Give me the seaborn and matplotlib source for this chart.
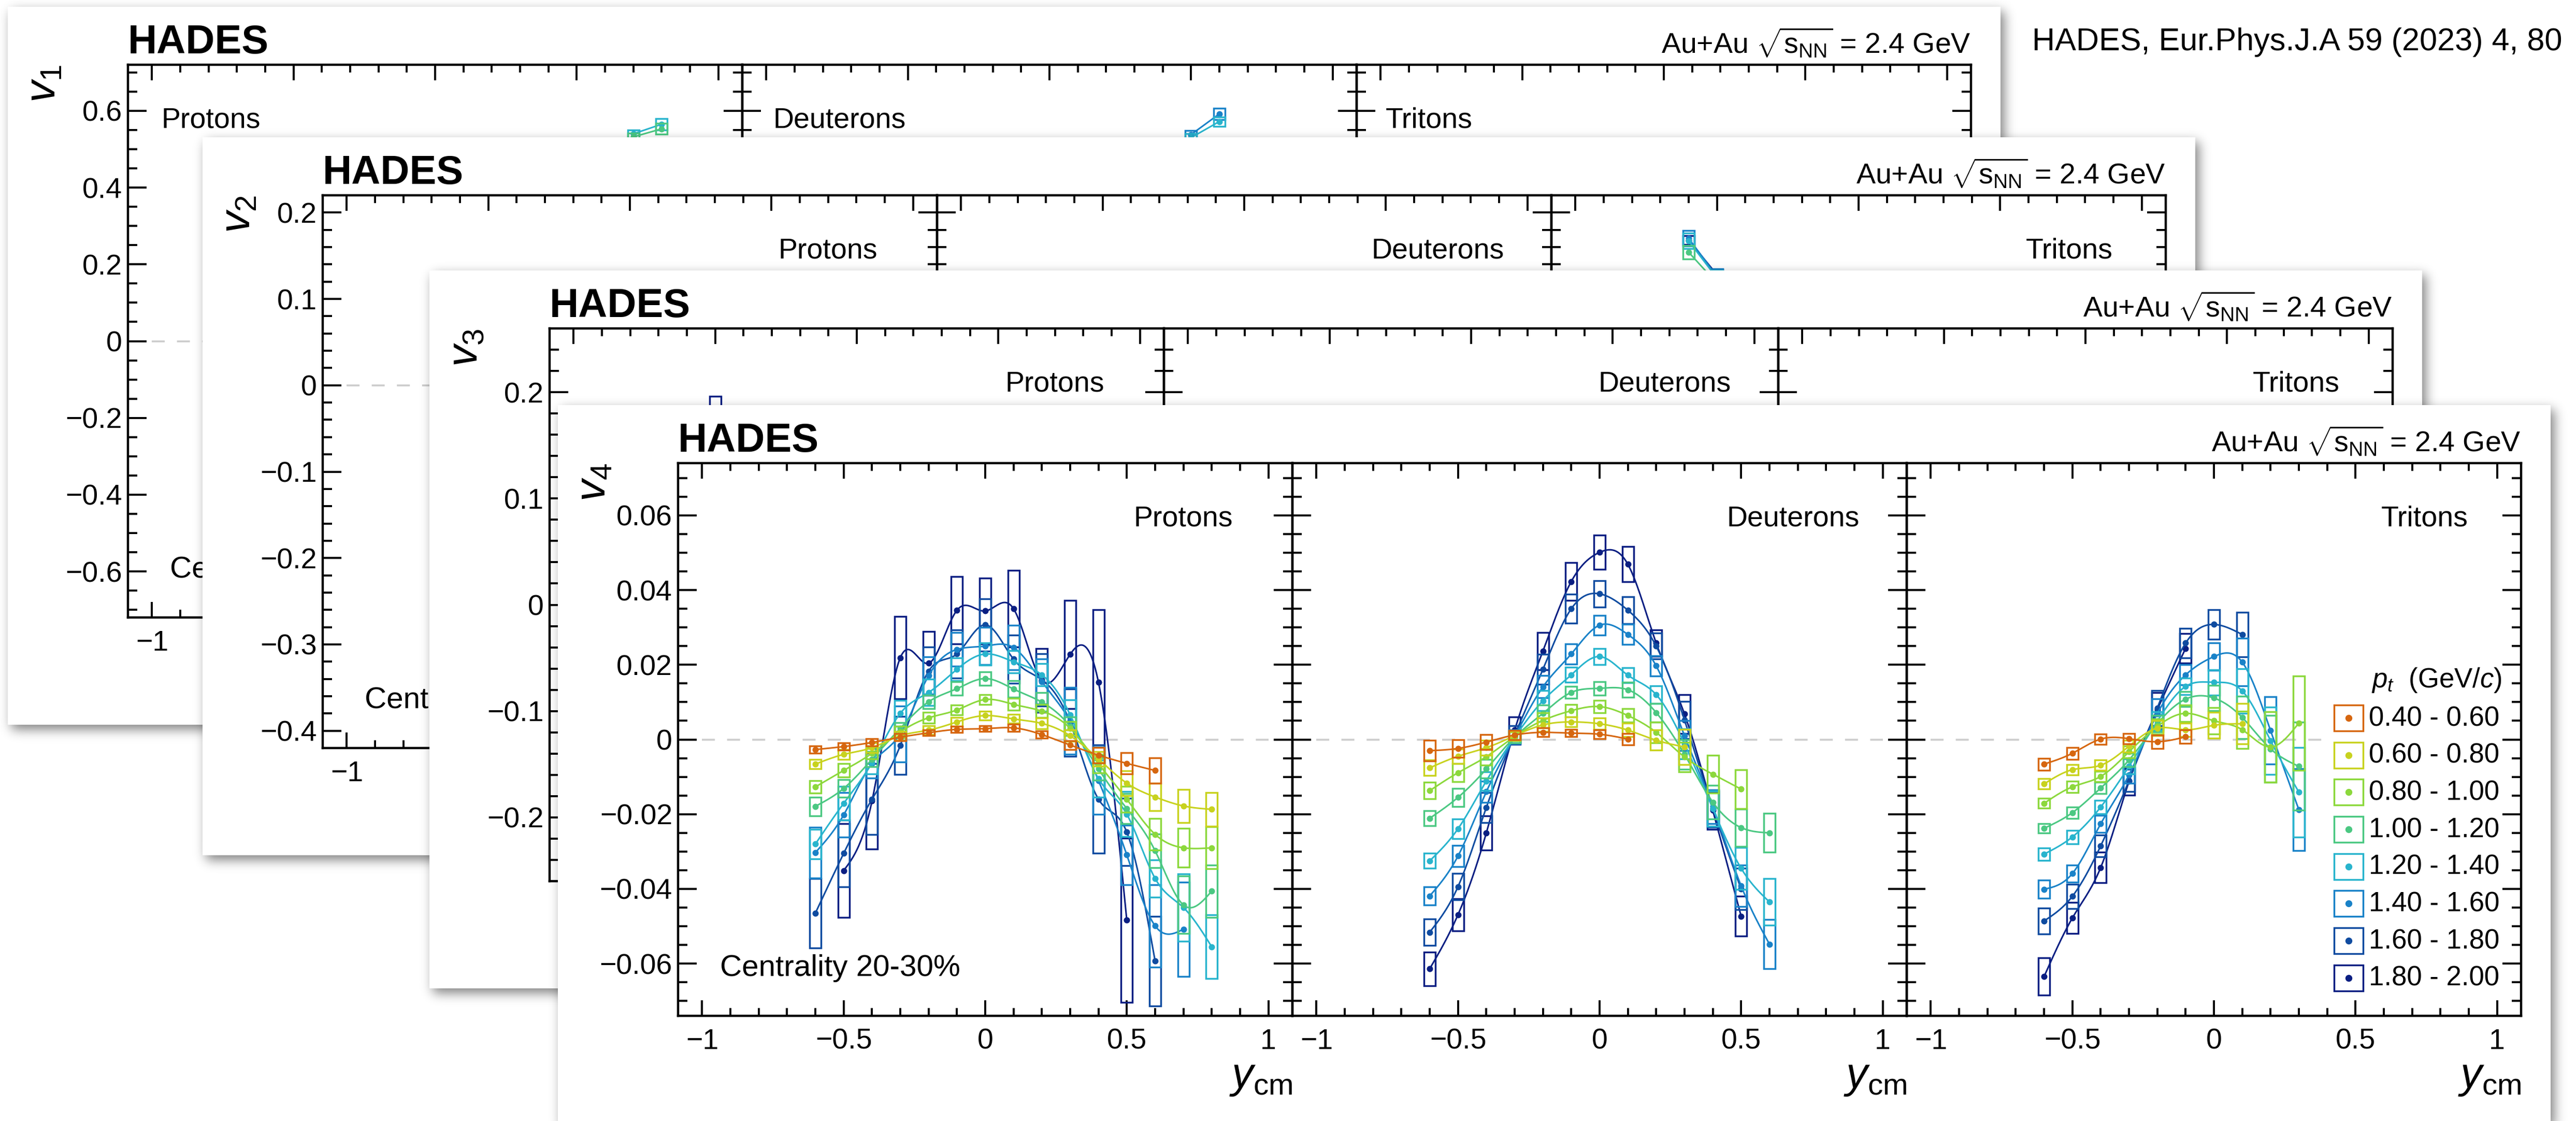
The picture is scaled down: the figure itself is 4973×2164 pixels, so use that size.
import math
import numpy as np
import matplotlib
matplotlib.use("Agg")
import matplotlib.pyplot as plt
from matplotlib.patches import Rectangle
from matplotlib.ticker import MultipleLocator, FuncFormatter
from matplotlib.transforms import Bbox
import seaborn as sns

W, H, DPI = 4973, 2164, 100

sns.set_theme(style="white")
plt.rcParams.update({
    "font.family": ["Liberation Sans", "DejaVu Sans"],
    "mathtext.fontset": "custom",
    "mathtext.rm": "Liberation Sans",
    "mathtext.it": "Liberation Sans:italic",
    "mathtext.bf": "Liberation Sans:bold",
    "axes.unicode_minus": True,
    "lines.scale_dashes": False,
    "text.color": "black",
    "figure.facecolor": "white",
})

# ---------------------------------------------------------------- data
PARTICLES = ["Protons", "Deuterons", "Tritons"]
PT_LABELS = ["0.40 - 0.60", "0.60 - 0.80", "0.80 - 1.00", "1.00 - 1.20",
             "1.20 - 1.40", "1.40 - 1.60", "1.60 - 1.80", "1.80 - 2.00"]
PT_COLORS = ["#d6660f", "#c8d21e", "#8cd83c", "#4bc882",
             "#28b4cd", "#1982c8", "#0f4ba0", "#0a1e82"]

# rapidity bins (y_cm) shared by all graphs
Y_GRID = [-0.6, -0.5, -0.4, -0.3, -0.2, -0.1, 0.0, 0.1, 0.2, 0.3, 0.4, 0.5, 0.6, 0.7, 0.8]

# v4 of protons, one row per pt bin; START = index of first rapidity bin
V4_PROTON_START = [0, 0, 0, 0, 0, 0, 0, 1]
V4_PROTON_V = [
    [-0.0027, -0.0019, -0.0008, 0.0006, 0.0018, 0.0027, 0.0029, 0.0031, 0.0013, -0.0015, -0.0042, -0.0064, -0.0083],
    [-0.0066, -0.0040, -0.0022, 0.0010, 0.0025, 0.0047, 0.0064, 0.0055, 0.0043, 0.0010, -0.0052, -0.0117, -0.0154, -0.0178, -0.0187],
    [-0.0127, -0.0083, -0.0037, 0.0020, 0.0058, 0.0079, 0.0107, 0.0094, 0.0076, 0.0030, -0.0065, -0.0160, -0.0254, -0.0290, -0.0290],
    [-0.0179, -0.0131, -0.0053, 0.0030, 0.0101, 0.0136, 0.0163, 0.0135, 0.0100, 0.0035, -0.0079, -0.0185, -0.0298, -0.0443, -0.0406],
    [-0.0280, -0.0171, -0.0062, 0.0070, 0.0126, 0.0188, 0.0229, 0.0208, 0.0173, 0.0066, -0.0105, -0.0200, -0.0372, -0.0450, -0.0555],
    [-0.0303, -0.0202, -0.0064, 0.0015, 0.0171, 0.0241, 0.0250, 0.0246, 0.0155, 0.0050, -0.0110, -0.0309, -0.0499, -0.0508],
    [-0.0465, -0.0305, -0.0160, -0.0016, 0.0183, 0.0229, 0.0307, 0.0215, 0.0160, 0.0045, -0.0160, -0.0248, -0.0593],
    [-0.0351, -0.0165, 0.0219, 0.0204, 0.0346, 0.0344, 0.0350, 0.0158, 0.0228, 0.0153, -0.0484],
]
V4_PROTON_SYS = [
    [0.0010, 0.0010, 0.0010, 0.0010, 0.0008, 0.0008, 0.0008, 0.0010, 0.0010, 0.0012, 0.0021, 0.0028, 0.0034],
    [0.0012, 0.0013, 0.0013, 0.0012, 0.0012, 0.0012, 0.0012, 0.0012, 0.0014, 0.0015, 0.0020, 0.0033, 0.0037, 0.0044, 0.0045],
    [0.0017, 0.0018, 0.0015, 0.0015, 0.0015, 0.0013, 0.0013, 0.0016, 0.0017, 0.0018, 0.0025, 0.0035, 0.0042, 0.0052, 0.0056],
    [0.0025, 0.0024, 0.0020, 0.0015, 0.0018, 0.0018, 0.0018, 0.0022, 0.0025, 0.0025, 0.0030, 0.0040, 0.0045, 0.0077, 0.0070],
    [0.0040, 0.0045, 0.0030, 0.0035, 0.0035, 0.0030, 0.0030, 0.0030, 0.0030, 0.0040, 0.0050, 0.0060, 0.0050, 0.0090, 0.0085],
    [0.0068, 0.0060, 0.0040, 0.0075, 0.0050, 0.0045, 0.0050, 0.0060, 0.0060, 0.0090, 0.0090, 0.0080, 0.0110, 0.0126],
    [0.0093, 0.0090, 0.0095, 0.0078, 0.0065, 0.0065, 0.0070, 0.0065, 0.0070, 0.0090, 0.0145, 0.0090, 0.0120],
    [0.0125, 0.0128, 0.0110, 0.0085, 0.0090, 0.0088, 0.0103, 0.0085, 0.0145, 0.0195, 0.0220],
]

# v4 of deuterons
V4_DEUTERON_START = [0, 0, 0, 0, 0, 0, 0, 0]
V4_DEUTERON_V = [
    [-0.0030, -0.0024, -0.0007, 0.0012, 0.0019, 0.0017, 0.0014, 0.0001],
    [-0.0076, -0.0045, -0.0022, 0.0010, 0.0039, 0.0047, 0.0042, 0.0025, -0.0002, -0.0020],
    [-0.0137, -0.0089, -0.0046, 0.0008, 0.0051, 0.0077, 0.0088, 0.0064, 0.0019, -0.0047, -0.0093, -0.0133],
    [-0.0211, -0.0155, -0.0079, 0.0006, 0.0070, 0.0126, 0.0137, 0.0133, 0.0072, -0.0040, -0.0168, -0.0236, -0.0250],
    [-0.0325, -0.0239, -0.0111, 0.0006, 0.0104, 0.0173, 0.0222, 0.0172, 0.0120, -0.0012, -0.0185, -0.0345, -0.0435],
    [-0.0419, -0.0312, -0.0140, 0.0008, 0.0141, 0.0229, 0.0306, 0.0281, 0.0197, 0.0010, -0.0180, -0.0392, -0.0548],
    [-0.0516, -0.0394, -0.0182, 0.0012, 0.0188, 0.0350, 0.0390, 0.0346, 0.0250, 0.0052, -0.0185, -0.0400],
    [-0.0614, -0.0469, -0.0250, 0.0025, 0.0237, 0.0423, 0.0501, 0.0469, 0.0258, 0.0068, -0.0190, -0.0473],
]
V4_DEUTERON_SYS = [
    [0.0028, 0.0024, 0.0020, 0.0012, 0.0012, 0.0010, 0.0012, 0.0015],
    [0.0021, 0.0020, 0.0020, 0.0012, 0.0018, 0.0013, 0.0015, 0.0018, 0.0027, 0.0047],
    [0.0022, 0.0024, 0.0022, 0.0012, 0.0020, 0.0016, 0.0017, 0.0018, 0.0028, 0.0040, 0.0051, 0.0052],
    [0.0020, 0.0024, 0.0025, 0.0015, 0.0022, 0.0016, 0.0018, 0.0020, 0.0025, 0.0040, 0.0045, 0.0050, 0.0052],
    [0.0020, 0.0026, 0.0025, 0.0015, 0.0027, 0.0020, 0.0021, 0.0020, 0.0023, 0.0040, 0.0047, 0.0056, 0.0062],
    [0.0024, 0.0028, 0.0028, 0.0018, 0.0030, 0.0027, 0.0026, 0.0027, 0.0027, 0.0040, 0.0045, 0.0055, 0.0066],
    [0.0035, 0.0035, 0.0040, 0.0025, 0.0040, 0.0039, 0.0035, 0.0036, 0.0035, 0.0050, 0.0050, 0.0055],
    [0.0045, 0.0043, 0.0046, 0.0035, 0.0050, 0.0051, 0.0046, 0.0047, 0.0035, 0.0052, 0.0050, 0.0053],
]

# v4 of tritons
V4_TRITON_START = [0, 0, 0, 0, 0, 0, 0, 0]
V4_TRITON_V = [
    [-0.0066, -0.0037, 0.0001, 0.0002, -0.0006, 0.0007],
    [-0.0119, -0.0081, -0.0069, -0.0018, 0.0030, 0.0026, 0.0038, 0.0042],
    [-0.0171, -0.0127, -0.0099, -0.0033, 0.0035, 0.0070, 0.0050, 0.0026, -0.0020, 0.0044],
    [-0.0238, -0.0196, -0.0130, -0.0055, 0.0042, 0.0108, 0.0111, 0.0059, -0.0025, -0.0072],
    [-0.0307, -0.0261, -0.0181, -0.0072, 0.0049, 0.0142, 0.0153, 0.0130, -0.0003, -0.0141],
    [-0.0401, -0.0359, -0.0226, -0.0095, 0.0069, 0.0173, 0.0222, 0.0207, 0.0024, -0.0188],
    [-0.0486, -0.0420, -0.0285, -0.0110, 0.0084, 0.0258, 0.0308, 0.0281],
    [-0.0635, -0.0478, -0.0343, -0.0112, 0.0080, 0.0244],
]
V4_TRITON_SYS = [
    [0.0016, 0.0016, 0.0014, 0.0014, 0.0018, 0.0018],
    [0.0014, 0.0014, 0.0014, 0.0016, 0.0020, 0.0018, 0.0035, 0.0054],
    [0.0013, 0.0015, 0.0014, 0.0016, 0.0020, 0.0022, 0.0035, 0.0050, 0.0094, 0.0126],
    [0.0013, 0.0015, 0.0015, 0.0018, 0.0022, 0.0020, 0.0034, 0.0057, 0.0090, 0.0118],
    [0.0017, 0.0018, 0.0018, 0.0020, 0.0025, 0.0022, 0.0034, 0.0060, 0.0090, 0.0120],
    [0.0024, 0.0023, 0.0023, 0.0022, 0.0040, 0.0027, 0.0037, 0.0064, 0.0090, 0.0110],
    [0.0035, 0.0033, 0.0029, 0.0030, 0.0047, 0.0040, 0.0040, 0.0060],
    [0.0050, 0.0042, 0.0041, 0.0037, 0.0045, 0.0040],
]

# pieces of the v1, v2, v3 graphs: {pt bin: (first rapidity index, values, systematics)}
V1_PROTON = {3: (13, [0.532, 0.553], [0.010, 0.014]),
             4: (13, [0.540, 0.565], [0.010, 0.015])}
V1_DEUTERON = {4: (11, [0.530, 0.572], [0.010, 0.012]),
               5: (11, [0.538, 0.592], [0.010, 0.015])}
V2_TRITON = {3: (0, [0.154, 0.118], [0.008, 0.008]),
             4: (0, [0.167, 0.124], [0.009, 0.009]),
             5: (0, [0.170, 0.126], [0.009, 0.009]),
             7: (0, [0.168, 0.128], [0.005, 0.006])}
V3_PROTON = {7: (1, [0.170], [0.026])}


def rows_to_dict(starts, values, syst):
    return {i: (starts[i], values[i], syst[i]) for i in range(len(values))}


CARDS = [
    dict(n=1, ylim=(-0.72, 0.72), major=0.2, minor=0.05, origin=(15, 13),
         names_left=True, panels=[V1_PROTON, V1_DEUTERON, {}]),
    dict(n=2, ylim=(-0.42, 0.22), major=0.1, minor=0.02, origin=(391, 265),
         names_left=False, panels=[{}, {}, V2_TRITON]),
    dict(n=3, ylim=(-0.26, 0.26), major=0.1, minor=0.02, origin=(829, 522),
         names_left=False, panels=[V3_PROTON, {}, {}]),
    dict(n=4, ylim=(-0.074, 0.074), major=0.02, minor=0.005, origin=(1077, 782),
         names_left=False,
         panels=[rows_to_dict(V4_PROTON_START, V4_PROTON_V, V4_PROTON_SYS),
                 rows_to_dict(V4_DEUTERON_START, V4_DEUTERON_V, V4_DEUTERON_SYS),
                 rows_to_dict(V4_TRITON_START, V4_TRITON_V, V4_TRITON_SYS)]),
]

# ---------------------------------------------------------------- layout (px)
CARD_W, CARD_H = 3847, 1386
AX_DX, AX_DY = 232, 112
PANEL_W, PANEL_H = 1186, 1067
NAME_X_RIGHT = [0.903, 0.923, 0.914]
NAME_X_LEFT = [0.054, 0.050, 0.047]
CENT_X = 0.068


def spline_path(x, y, n=30):
    """Natural cubic spline through the graph points (smooth drawing option)."""
    x = np.asarray(x, float)
    y = np.asarray(y, float)
    m = len(x)
    if m < 3:
        return x, y
    h = np.diff(x)
    A = np.zeros((m, m))
    r = np.zeros(m)
    A[0, 0] = A[-1, -1] = 1.0
    for i in range(1, m - 1):
        A[i, i - 1] = h[i - 1]
        A[i, i] = 2 * (h[i - 1] + h[i])
        A[i, i + 1] = h[i]
        r[i] = 3 * ((y[i + 1] - y[i]) / h[i] - (y[i] - y[i - 1]) / h[i - 1])
    c = np.linalg.solve(A, r)
    b = (y[1:] - y[:-1]) / h - h * (2 * c[:-1] + c[1:]) / 3
    d = (c[1:] - c[:-1]) / (3 * h)
    xs, ys = [], []
    for i in range(m - 1):
        t = np.linspace(0, h[i], n, endpoint=(i == m - 2))
        xs.append(x[i] + t)
        ys.append(y[i] + b[i] * t + c[i] * t ** 2 + d[i] * t ** 3)
    return np.concatenate(xs), np.concatenate(ys)


verf = np.vectorize(math.erf)


def blur_profile(n, a, b, sigma):
    t = np.arange(n) + 0.5
    s = sigma * math.sqrt(2)
    return 0.5 * (verf((t - a) / s) - verf((t - b) / s))


def add_shadow(fig, left, top, w, h, z, dx=7, dy=9, sigma=11, amax=0.5, pad=60):
    x0, x1 = max(left - pad, 0), min(left + w + pad, W)
    y0, y1 = max(top - pad, 0), min(top + h + pad, H)
    px = blur_profile(x1 - x0, left + dx - x0, left + w + dx - x0, sigma)
    py = blur_profile(y1 - y0, top + dy - y0, top + h + dy - y0, sigma)
    img = np.zeros((y1 - y0, x1 - x0, 4), dtype=np.uint8)
    img[..., 3] = np.clip(amax * np.outer(py, px) * 255, 0, 255).astype(np.uint8)
    fig.figimage(img, xo=x0, yo=H - y1, origin="upper", zorder=z)


def tick_fmt(v, pos):
    v = round(v, 6)
    if abs(v) < 1e-9:
        return "0"
    return f"{v:g}".replace("-", "\u2212")


def left_edge_fmt(v, pos):
    # on the stacked cards only the leftmost x label sticks out
    return tick_fmt(v, pos) if v < -0.99 else ""


def style_panel(ax, card, first):
    front = card["n"] == 4
    ax.set_facecolor("none")
    ax.set_xlim(-1.085, 1.085)
    ax.set_ylim(*card["ylim"])
    ax.xaxis.set_major_locator(MultipleLocator(0.5))
    ax.xaxis.set_minor_locator(MultipleLocator(0.1))
    ax.yaxis.set_major_locator(MultipleLocator(card["major"]))
    ax.yaxis.set_minor_locator(MultipleLocator(card["minor"]))
    ax.xaxis.set_major_formatter(FuncFormatter(tick_fmt if front else left_edge_fmt))
    ax.yaxis.set_major_formatter(FuncFormatter(tick_fmt))
    show_x = front or (first and card["n"] < 3)
    common = dict(direction="in", color="black", width=2.8, labelcolor="black")
    ax.tick_params(axis="x", which="major", length=21.6, top=True, bottom=True,
                   labelbottom=show_x, labelsize=40, pad=17, **common)
    ax.tick_params(axis="x", which="minor", length=10.5, top=True, bottom=True, **common)
    ax.tick_params(axis="y", which="major", length=26, left=True, right=True,
                   labelleft=first, labelsize=40, pad=8, **common)
    ax.tick_params(axis="y", which="minor", length=13, left=True, right=True, **common)
    for sp in ax.spines.values():
        sp.set_color("black")
        sp.set_linewidth(3.2)
    ax.set_xlabel("")
    ax.set_ylabel("")


def draw_series(ax, ys, vs, ss, color, z):
    ys, vs, ss = np.asarray(ys), np.asarray(vs), np.asarray(ss)
    ax.bar(ys, 2 * ss, bottom=vs - ss, width=0.04, fill=False,
           edgecolor=color, linewidth=2.5, zorder=z)
    cx, cy = spline_path(ys, vs)
    if len(cx) > 1:
        ax.plot(cx, cy, color=color, lw=2.2, zorder=z + 0.1)
    sns.scatterplot(x=ys, y=vs, color=color, s=75, linewidth=0, ax=ax,
                    zorder=z + 0.2, legend=False)


def draw_legend(ax):
    ax.add_patch(Rectangle((0.682, 0.04), 0.286, 0.60, transform=ax.transAxes,
                           facecolor="white", edgecolor="none", zorder=1.5))
    ax.text(0.969, 0.594, r"$p_{t}$  (GeV/$c$)", transform=ax.transAxes,
            ha="right", va="baseline", fontsize=38, zorder=3)
    for i, (lab, col) in enumerate(zip(PT_LABELS, PT_COLORS)):
        yc = 0.539 - i * 0.0672
        ax.add_patch(Rectangle((0.7195 - 0.0236, yc - 0.0234), 0.0472, 0.0468,
                               transform=ax.transAxes, fill=False,
                               edgecolor=col, lw=2.5, zorder=3))
        ax.plot([0.7195], [yc], marker="o", ms=8.6, color=col, ls="none",
                transform=ax.transAxes, zorder=3.1)
        ax.text(0.7522, yc - 0.0142, lab, transform=ax.transAxes,
                ha="left", va="baseline", fontsize=38, zorder=3)


fig = plt.figure(figsize=(W / DPI, H / DPI), dpi=DPI)

for k, card in enumerate(CARDS):
    base = 10 * card["n"]
    left, top = card["origin"]
    front = card["n"] == 4
    add_shadow(fig, left, top, CARD_W, CARD_H, base)
    fig.add_artist(Rectangle((left / W, 1 - (top + CARD_H) / H), CARD_W / W, CARD_H / H,
                             transform=fig.transFigure, facecolor="white",
                             edgecolor="none", zorder=base + 1))
    axes = []
    for p in range(3):
        axl = left + AX_DX + p * PANEL_W
        axt = top + AX_DY
        ax = fig.add_axes([axl / W, 1 - (axt + PANEL_H) / H, PANEL_W / W, PANEL_H / H])
        ax.set_zorder(base + 2)
        axes.append(ax)

        ax.plot([-1.0, 1.0], [0.0, 0.0], color="#cccccc", lw=2.6,
                dashes=(18, 17), zorder=1)
        series = card["panels"][p]
        for b in sorted(series.keys(), reverse=True):
            start, vals, syst = series[b]
            ys = Y_GRID[start:start + len(vals)]
            draw_series(ax, ys, vals, syst, PT_COLORS[b], z=2 + (7 - b) * 0.5)
        style_panel(ax, card, p == 0)

        if card["names_left"]:
            ax.text(NAME_X_LEFT[p], 0.886, PARTICLES[p], transform=ax.transAxes,
                    ha="left", va="baseline", fontsize=40)
        else:
            ax.text(NAME_X_RIGHT[p], 0.886, PARTICLES[p], transform=ax.transAxes,
                    ha="right", va="baseline", fontsize=40)
        if front:
            ax.text(1.0, -0.130, r"$y_{\mathrm{cm}}$", transform=ax.transAxes,
                    ha="right", va="baseline", fontsize=60)

    a0 = axes[0]
    a0.text(0.0, 1.0206, "HADES", transform=a0.transAxes, ha="left",
            va="baseline", fontsize=56, fontweight="bold")
    a0.text(-0.1037, 1.0, rf"$v_{{{card['n']}}}$", transform=a0.transAxes,
            rotation=90, ha="right", va="top", fontsize=60)

    # centrality tag; on a stacked card only the part left of the next card shows
    cent_px = left + AX_DX + CENT_X * PANEL_W
    next_left = W if front else CARDS[k + 1]["origin"][0]
    if cent_px < next_left:
        cent = a0.text(CENT_X, 0.072, "Centrality 20-30%", transform=a0.transAxes,
                       ha="left", va="baseline", fontsize=42)
        if not front:
            cent.set_clip_box(Bbox.from_extents(0, 0, next_left, H))
            cent.set_clip_on(True)

    axes[2].text(1.0, 1.0206, r"Au+Au $\sqrt{\mathrm{s}_{\mathrm{NN}}}$ = 2.4 GeV",
                 transform=axes[2].transAxes, ha="right", va="baseline", fontsize=40)
    if front:
        draw_legend(axes[2])

fig.text(4946 / W, 1 - 97 / H, "HADES, Eur.Phys.J.A 59 (2023) 4, 80",
         ha="right", va="baseline", fontsize=44,
         family=["Liberation Sans Narrow", "Liberation Sans"], zorder=100)

fig.savefig("out.png", dpi=DPI, facecolor="white")
